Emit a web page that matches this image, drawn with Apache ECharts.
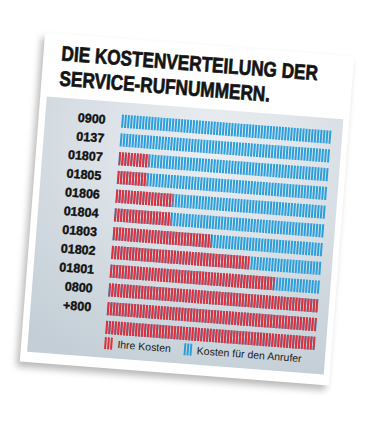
<!DOCTYPE html>
<html lang="de">
<head>
<meta charset="UTF-8">
<title>Kostenverteilung Service-Rufnummern</title>
<script src="https://cdn.jsdelivr.net/npm/echarts@6/dist/echarts.min.js"></script>
<style>
    html, body { margin: 0; padding: 0; background: #fff; }
    body { width: 377px; height: 431px; position: relative; overflow: hidden; }
    /* die Karte ist leicht schief fotografiert */
    #card {
        position: absolute; left: 32px; top: 44px;
        width: 310px; height: 330px;
        background: #fff;
        transform: rotate(4.4deg);
        box-shadow: -3px 5px 7px rgba(0, 0, 0, 0.28);
    }
</style>
</head>
<body>
<div id="card"></div>
<script type="text/javascript">
    // Rufnummern von oben nach unten (letzte Zeile ohne Beschriftung)
    const nummern = ['0900', '0137', '01807', '01805', '01806', '01804', '01803', '01802', '01801', '0800', '+800', ''];
    // Anteile in Streifen (je Balken 70 Streifen)
    const ihreKosten = [0, 0, 10, 10, 19, 19, 33, 46, 55, 70, 70, 70];
    const anruferKosten = [70, 70, 60, 60, 51, 51, 37, 24, 15, 0, 0, 0];
    const legende = ['Ihre Kosten', 'Kosten für den Anrufer'];

    const rot = '#df303b';
    const blau = '#2b9fdb';
    const schrift = "'Liberation Sans', Arial, sans-serif";
    const streifen = 'path://M0,0h2v12h-2zM3,0h2v12h-2zM6,0h2v12h-2z';

    // Gesamtlänge je Balken
    const gesamt = ihreKosten.map(function (v, i) { return v + anruferKosten[i]; });
    const maxStreifen = Math.max.apply(null, gesamt);

    var myChart = echarts.init(document.getElementById('card'), null, {renderer: 'svg'});
    option = {
        animation: false,
        graphic: [
            {
                type: 'rect', z: 0, silent: true,
                shape: {x: 6.5, y: 63.5, width: 297.5, height: 256},
                style: {
                    fill: new echarts.graphic.RadialGradient(0.58, 0.15, 0.95, [
                        {offset: 0, color: '#eceff2'},
                        {offset: 1, color: '#c3ced6'}
                    ])
                }
            },
            {
                // Überschrift, schmal und fett gesetzt
                type: 'text', z: 1, silent: true,
                x: 18, y: 7, scaleX: 0.82,
                style: {
                    text: 'DIE KOSTENVERTEILUNG DER\nSERVICE-RUFNUMMERN.',
                    fontFamily: schrift, fontSize: 21, fontWeight: 'bold',
                    lineHeight: 25, fill: '#141414',
                    stroke: '#141414', lineWidth: 0.7
                }
            }
        ],
        legend: {
            data: [
                {name: legende[0], icon: streifen},
                {name: legende[1], icon: streifen}
            ],
            left: 83, top: 299, padding: 0,
            itemWidth: 8, itemHeight: 12, itemGap: 13,
            selectedMode: false,
            textStyle: {fontFamily: schrift, fontSize: 10.5, color: '#222'}
        },
        grid: {left: 83, width: 210, top: 73, height: 225.6},
        xAxis: {type: 'value', min: 0, max: maxStreifen, show: false},
        yAxis: {
            type: 'category', inverse: true, data: nummern,
            axisLine: {show: false}, axisTick: {show: false},
            axisLabel: {
                margin: 16, fontFamily: schrift, fontSize: 12.5, fontWeight: 'bold', color: '#111',
                textBorderColor: '#111', textBorderWidth: 0.4
            }
        },
        series: [
            {
                name: legende[1], type: 'pictorialBar', z: 2,
                data: gesamt,
                symbol: 'rect', symbolSize: [2, 13], symbolRepeat: true,
                symbolMargin: 0.5, symbolBoundingData: maxStreifen,
                itemStyle: {color: blau}
            },
            {
                name: legende[0], type: 'pictorialBar', z: 3, barGap: '-100%',
                data: ihreKosten,
                symbol: 'rect', symbolSize: [2, 13], symbolRepeat: true,
                symbolMargin: 0.5, symbolBoundingData: maxStreifen, symbolClip: true,
                itemStyle: {color: rot}
            }
        ]
    };
    myChart.setOption(option);
</script>
</body>
</html>
